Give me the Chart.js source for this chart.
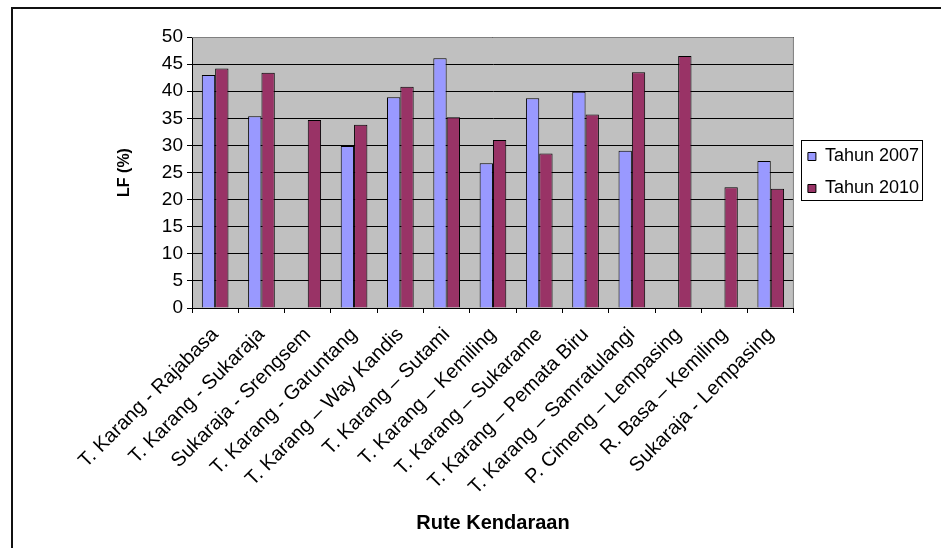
<!DOCTYPE html>
<html>
<head>
<meta charset="utf-8">
<title>LF per rute</title>
<script src="https://cdn.jsdelivr.net/npm/chart.js@4/dist/chart.umd.min.js"></script>
<style>
    html, body { margin: 0; padding: 0; background: #fff; overflow: hidden; }
    #frame {
        position: absolute; left: 11px; top: 7px;
        width: 1000px; height: 1000px;
        border: 2px solid #111;
    }
    #wrap { position: absolute; left: 0; top: 0; width: 941px; height: 548px; }
</style>
</head>
<body>
<div id="frame"></div>
<div id="wrap"><canvas id="chartLF"></canvas></div>
<script>
// ====== DATA ======
const rute = [
    'T. Karang - Rajabasa',
    'T. Karang - Sukaraja',
    'Sukaraja - Srengsem',
    'T. Karang - Garuntang',
    'T. Karang \u2013 Way Kandis',
    'T. Karang \u2013 Sutami',
    'T. Karang \u2013 Kemiling',
    'T. Karang \u2013 Sukarame',
    'T. Karang \u2013 Pemata Biru',
    'T. Karang \u2013 Samratulangi',
    'P. Cimeng \u2013 Lempasing',
    'R. Basa \u2013 Kemiling',
    'Sukaraja - Lempasing'
];
const tahun2007 = [43.0, 35.4, null, 29.9, 38.9, 46.1, 26.7, 38.7, 39.9, 29.0, null, null, 27.1];
const tahun2010 = [44.2, 43.4, 34.7, 33.8, 40.8, 35.2, 31.0, 28.5, 35.7, 43.5, 46.5, 22.3, 22.0];
const yTicks = [0, 5, 10, 15, 20, 25, 30, 35, 40, 45, 50];

Chart.defaults.font.family = 'Arial, "Liberation Sans", sans-serif';
Chart.defaults.color = '#000';

// fundo cinza da area do grafico + borda
const plotBg = {
    id: 'plotBg',
    beforeDraw(chart) {
        const {ctx, chartArea: a} = chart;
        ctx.save();
        ctx.fillStyle = '#C0C0C0';
        ctx.fillRect(a.left, a.top, a.right - a.left, a.bottom - a.top);
        ctx.restore();
    },
    afterDatasetsDraw(chart) {
        const {ctx, chartArea: a} = chart;
        ctx.save();
        ctx.strokeStyle = '#808080';
        ctx.lineWidth = 1;
        ctx.beginPath();
        ctx.moveTo(a.left, a.top + 0.5);
        ctx.lineTo(a.right - 0.5, a.top + 0.5);
        ctx.lineTo(a.right - 0.5, a.bottom);
        ctx.stroke();
        ctx.restore();
    }
};

// moldura da legenda
const legendBox = {
    id: 'legendBox',
    afterDraw(chart) {
        const hb = chart.legend.legendHitBoxes;
        if (!hb || !hb.length) return;
        const {ctx} = chart;
        const first = hb[0], last = hb[hb.length - 1];
        const w = Math.max(...hb.map(h => h.width));
        ctx.save();
        ctx.strokeStyle = '#000';
        ctx.lineWidth = 1;
        ctx.strokeRect(Math.round(first.left - 7) + 0.5, Math.round(first.top - 8) + 0.5,
                       Math.round(w + 10), Math.round(last.top + 28 - first.top));
        ctx.restore();
    }
};

new Chart(document.getElementById('chartLF'), {
    type: 'bar',
    data: {
        labels: rute,
        datasets: [{
            label: 'Tahun 2007',
            data: tahun2007,
            backgroundColor: '#9999FF',
            borderColor: '#000',
            borderWidth: 1,
            barPercentage: 1,
            categoryPercentage: 0.576
        }, {
            label: 'Tahun 2010',
            data: tahun2010,
            backgroundColor: '#993366',
            borderColor: '#000',
            borderWidth: 1,
            barPercentage: 1,
            categoryPercentage: 0.576
        }]
    },
    options: {
        responsive: true,
        maintainAspectRatio: false,
        animation: false,
        layout: { padding: { left: 0, top: 37, right: 12, bottom: 0 } },
        plugins: {
            tooltip: { enabled: false },
            legend: {
                position: 'right',
                fullSize: false,
                labels: {
                    boxWidth: 8,
                    boxHeight: 8,
                    padding: 14,
                    font: { size: 18 },
                    color: '#000'
                }
            }
        },
        scales: {
            x: {
                afterFit(scale) { scale.height = 240; },
                grid: {
                    display: true,
                    drawOnChartArea: false,
                    drawTicks: true,
                    tickLength: 5,
                    color: '#000',
                    offset: true
                },
                border: { color: '#000', width: 1 },
                ticks: {
                    autoSkip: false,
                    minRotation: 45,
                    maxRotation: 45,
                    padding: 10,
                    font: { size: 20 }
                },
                title: {
                    display: true,
                    text: 'Rute Kendaraan',
                    font: { size: 20, weight: 'bold', lineHeight: 1.2 },
                    padding: { top: 0, bottom: 13 }
                }
            },
            y: {
                min: 0,
                max: 50,
                afterFit(scale) { scale.width = 192; },
                afterBuildTicks(scale) { scale.ticks = yTicks.map(v => ({ value: v })); },
                grid: {
                    color: '#000',
                    drawTicks: true,
                    tickLength: 5
                },
                border: { color: '#000', width: 1 },
                ticks: {
                    padding: 4,
                    font: { size: 19 }
                },
                title: {
                    display: true,
                    text: 'LF (%)',
                    font: { size: 16, weight: 'bold', lineHeight: 1.2 },
                    padding: { top: 115, bottom: 0 }
                }
            }
        }
    },
    plugins: [plotBg, legendBox]
});
</script>
</body>
</html>
